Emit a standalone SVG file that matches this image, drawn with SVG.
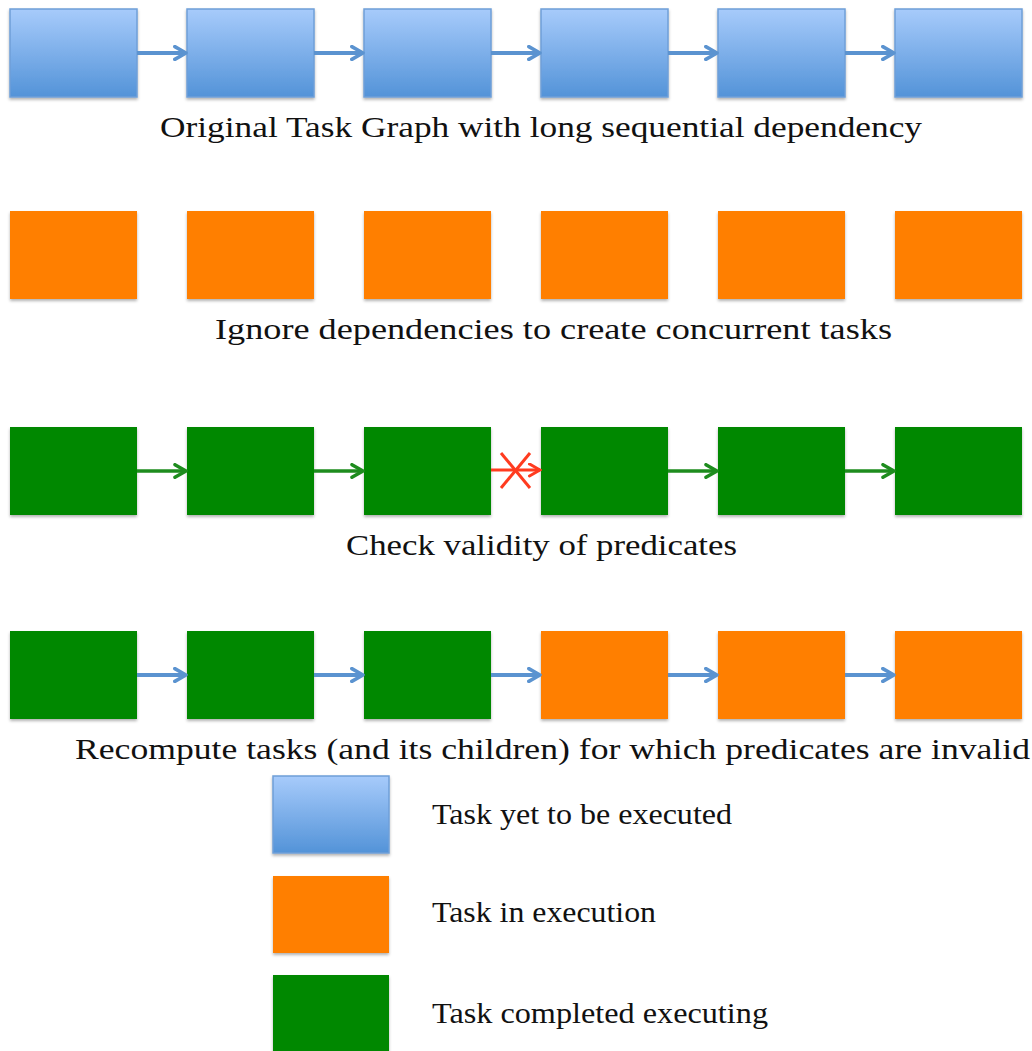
<svg xmlns="http://www.w3.org/2000/svg" width="1032" height="1051" viewBox="0 0 1032 1051">
<style>
.blue{fill:url(#bg);stroke:#6f9fd8;stroke-width:1.5}
.orange{fill:#ff7f00}
.green{fill:#008800}
.lbl{font-family:"Liberation Serif","DejaVu Serif",serif;font-size:30px;fill:#111}
.ab{stroke:#5b93d0;stroke-width:4;fill:none}
.ag{stroke:#1e8c1e;stroke-width:3.5;fill:none}
.ar{stroke:#ff3b1f;stroke-width:3;fill:none}
</style>
<defs>
<linearGradient id="bg" x1="0" y1="0" x2="0" y2="1">
<stop offset="0" stop-color="#a7cbfb"/>
<stop offset="1" stop-color="#5393d8"/>
</linearGradient>
<filter id="sh" x="-10%" y="-10%" width="120%" height="130%">
<feDropShadow dx="0" dy="2" stdDeviation="1.5" flood-color="#000" flood-opacity="0.3"/>
</filter>
<marker id="mb" viewBox="0 0 10 10" refX="8.5" refY="5" markerWidth="4" markerHeight="4" orient="auto" markerUnits="strokeWidth"><path d="M1.5,1 L8.5,5 L1.5,9" fill="none" stroke="#5b93d0" stroke-width="2.2" stroke-linecap="round" stroke-linejoin="round"/></marker>
<marker id="mg" viewBox="0 0 10 10" refX="8.5" refY="5" markerWidth="4.5" markerHeight="4.5" orient="auto" markerUnits="strokeWidth"><path d="M1.5,1 L8.5,5 L1.5,9" fill="none" stroke="#1e8c1e" stroke-width="2.2" stroke-linecap="round" stroke-linejoin="round"/></marker>
<marker id="mr" viewBox="0 0 10 10" refX="8.5" refY="5" markerWidth="5" markerHeight="5" orient="auto" markerUnits="strokeWidth"><path d="M1.5,1 L8.5,5 L1.5,9" fill="none" stroke="#ff3b1f" stroke-width="2" stroke-linecap="round"/></marker>
</defs>
<rect width="1032" height="1051" fill="#fff"/>
<g id="row1" filter="url(#sh)">
<g id="r1n1"><rect class="blue" x="10" y="9" width="127" height="88"/></g>
<g id="r1n2"><rect class="blue" x="187" y="9" width="127" height="88"/></g>
<g id="r1n3"><rect class="blue" x="364" y="9" width="127" height="88"/></g>
<g id="r1n4"><rect class="blue" x="541" y="9" width="127" height="88"/></g>
<g id="r1n5"><rect class="blue" x="718" y="9" width="127" height="88"/></g>
<g id="r1n6"><rect class="blue" x="895" y="9" width="127" height="88"/></g>
</g>
<g id="row2" filter="url(#sh)">
<g id="r2n1"><rect class="orange" x="10" y="211" width="127" height="88"/></g>
<g id="r2n2"><rect class="orange" x="187" y="211" width="127" height="88"/></g>
<g id="r2n3"><rect class="orange" x="364" y="211" width="127" height="88"/></g>
<g id="r2n4"><rect class="orange" x="541" y="211" width="127" height="88"/></g>
<g id="r2n5"><rect class="orange" x="718" y="211" width="127" height="88"/></g>
<g id="r2n6"><rect class="orange" x="895" y="211" width="127" height="88"/></g>
</g>
<g id="row3" filter="url(#sh)">
<g id="r3n1"><rect class="green" x="10" y="427" width="127" height="88"/></g>
<g id="r3n2"><rect class="green" x="187" y="427" width="127" height="88"/></g>
<g id="r3n3"><rect class="green" x="364" y="427" width="127" height="88"/></g>
<g id="r3n4"><rect class="green" x="541" y="427" width="127" height="88"/></g>
<g id="r3n5"><rect class="green" x="718" y="427" width="127" height="88"/></g>
<g id="r3n6"><rect class="green" x="895" y="427" width="127" height="88"/></g>
</g>
<g id="row4" filter="url(#sh)">
<g id="r4n1"><rect class="green" x="10" y="631" width="127" height="88"/></g>
<g id="r4n2"><rect class="green" x="187" y="631" width="127" height="88"/></g>
<g id="r4n3"><rect class="green" x="364" y="631" width="127" height="88"/></g>
<g id="r4n4"><rect class="orange" x="541" y="631" width="127" height="88"/></g>
<g id="r4n5"><rect class="orange" x="718" y="631" width="127" height="88"/></g>
<g id="r4n6"><rect class="orange" x="895" y="631" width="127" height="88"/></g>
</g>
<g id="legend" filter="url(#sh)">
<g id="leg1"><rect class="blue" x="273" y="776" width="116" height="77"/></g>
<g id="leg2"><rect class="orange" x="273" y="876" width="116" height="77"/></g>
<g id="leg3"><rect class="green" x="273" y="975" width="116" height="77"/></g>
</g>
<g id="connectors">
<line class="ab" x1="137" y1="53" x2="186" y2="53" marker-end="url(#mb)"/>
<line class="ab" x1="314" y1="53" x2="363" y2="53" marker-end="url(#mb)"/>
<line class="ab" x1="491" y1="53" x2="540" y2="53" marker-end="url(#mb)"/>
<line class="ab" x1="668" y1="53" x2="717" y2="53" marker-end="url(#mb)"/>
<line class="ab" x1="845" y1="53" x2="894" y2="53" marker-end="url(#mb)"/>
<line class="ag" x1="137" y1="471" x2="186" y2="471" marker-end="url(#mg)"/>
<line class="ag" x1="314" y1="471" x2="363" y2="471" marker-end="url(#mg)"/>
<line class="ar" x1="491" y1="470" x2="540" y2="470" marker-end="url(#mr)"/>
<line class="ar" x1="501" y1="453" x2="530" y2="488"/>
<line class="ar" x1="530" y1="453" x2="501" y2="488"/>
<line class="ag" x1="668" y1="471" x2="717" y2="471" marker-end="url(#mg)"/>
<line class="ag" x1="845" y1="471" x2="894" y2="471" marker-end="url(#mg)"/>
<line class="ab" x1="137" y1="675" x2="186" y2="675" marker-end="url(#mb)"/>
<line class="ab" x1="314" y1="675" x2="363" y2="675" marker-end="url(#mb)"/>
<line class="ab" x1="491" y1="675" x2="540" y2="675" marker-end="url(#mb)"/>
<line class="ab" x1="668" y1="675" x2="717" y2="675" marker-end="url(#mb)"/>
<line class="ab" x1="845" y1="675" x2="894" y2="675" marker-end="url(#mb)"/>
</g>
<g id="labels">
<text class="lbl" x="160" y="137" textLength="762" lengthAdjust="spacingAndGlyphs">Original Task Graph with long sequential dependency</text>
<text class="lbl" x="215" y="339" textLength="677" lengthAdjust="spacingAndGlyphs">Ignore dependencies to create concurrent tasks</text>
<text class="lbl" x="346" y="555" textLength="391" lengthAdjust="spacingAndGlyphs">Check validity of predicates</text>
<text class="lbl" x="75" y="759" textLength="955" lengthAdjust="spacingAndGlyphs">Recompute tasks (and its children) for which predicates are invalid</text>
<text class="lbl" x="432" y="824" textLength="300" lengthAdjust="spacingAndGlyphs">Task yet to be executed</text>
<text class="lbl" x="432" y="922" textLength="224" lengthAdjust="spacingAndGlyphs">Task in execution</text>
<text class="lbl" x="432" y="1023" textLength="336" lengthAdjust="spacingAndGlyphs">Task completed executing</text>
</g>
</svg>
